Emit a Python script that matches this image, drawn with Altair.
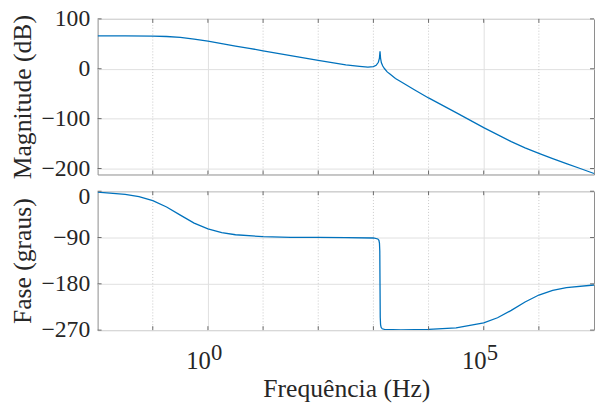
import altair as alt
import pandas as pd

# ---- data ----
mag_freq = [0.01, 0.0316, 0.1, 0.178, 0.316, 0.562, 1, 1.78, 3.16, 5.62, 10, 31.6, 100,
            316, 562, 794, 1000, 1122, 1230, 1288, 1318, 1349, 1396, 1479, 1585, 1778,
            1995, 2512, 3162, 5623, 1e4, 3.16e4, 1e5, 3.16e5, 5.62e5, 1e6, 1.78e6,
            3.16e6, 5.62e6, 1e7]
mag_db = [66, 66, 65.5, 64.7, 62.8, 59.5, 55.2, 50.5, 45.5, 41, 36, 26.5, 17,
          8, 5, 3.5, 4.5, 7, 13, 21.5, 35, 21, 12, 5.5, 0.5, -6.3,
          -10.5, -19.4, -26, -42.5, -58.5, -88, -118, -146, -158.5, -169.5, -180,
          -190, -200, -210]

ph_freq = [0.01, 0.0316, 0.0562, 0.1, 0.178, 0.316, 0.562, 1, 1.78, 3.16, 10, 31.6,
           100, 316, 1000, 1202, 1259, 1288, 1306, 1318, 1330, 1349, 1380, 1445, 1585,
           3162, 1e4, 3.16e4, 1e5, 1.78e5, 3.16e5, 5.62e5, 1e6, 1.78e6, 3.16e6, 1e7]
ph_deg = [-1.9, -6, -10.6, -18.4, -30.7, -46.5, -61.9, -73.3, -80.4, -84.6, -88.3, -89.5,
          -89.8, -90.1, -90.9, -92.8, -95.5, -100.9, -116, -180, -244.4, -259.2, -264.6,
          -267.4, -268.5, -269.5, -268.6, -265.5, -256, -246, -231.7, -215.4, -201.8,
          -192.7, -187.2, -182.3]

x_domain = [0.01, 1e7]
major_ticks = [1, 1e5]
major_exp = ["0", "5"]
minor_decades = [0.1, 10, 100, 1000, 1e4, 1e6]
all_decades = [0.1, 1, 10, 100, 1000, 1e4, 1e5, 1e6]
mag_domain = [-212, 100]
mag_ticks = [100, 0, -100, -200]
ph_domain = [-270, 0]
ph_ticks = [0, -90, -180, -270]
x_title = ["Frequência (Hz)"]

# ---- style ----
FONT = "Times New Roman, Liberation Serif, DejaVu Serif, serif"
TXT = "#262626"
LINE = "#0072BD"
GRID = "#e0e0e0"
MINOR = "#c8c8c8"
BOX = "#8c8c8c"
TICK = "#6a6a6a"
W, H1, H2 = 504, 158, 141

xs = alt.Scale(type="log", domain=x_domain, nice=False)


def panel(df, field, ydomain, yticks, ytitle, H, bottom):
    ys = alt.Scale(domain=ydomain, nice=False, zero=False)
    xaxis = alt.Axis(values=major_ticks, labels=False, ticks=False, domain=False,
                     grid=True, gridColor=GRID, gridWidth=1)
    yaxis = alt.Axis(values=yticks, ticks=False, tickSize=0, domain=False, grid=True,
                     gridColor=GRID, gridWidth=1, labelFont=FONT, labelFontSize=24,
                     labelColor=TXT, labelPadding=8,
                     labelOffset={"condition": {"test": "datum.value === 0 && " + ("true" if bottom else "false"),
                                                "value": 5}, "value": 0},
                     titleFont=FONT, titleFontSize=26,
                     titleFontWeight="normal", titleColor=TXT, titleAngle=270,
                     titleX=-76, titleY=H / 2, titleBaseline="middle",
                     titleAlign="center")

    def X(fld="f"):
        return alt.X(f"{fld}:Q", scale=xs, axis=xaxis, title=None)

    def Y(fld):
        return alt.Y(f"{fld}:Q", scale=ys, axis=yaxis, title=ytitle)

    minor = alt.Chart(pd.DataFrame({"f": minor_decades})).mark_rule(
        color=MINOR, strokeDash=[1, 2], strokeWidth=1
    ).encode(x=X())

    line = alt.Chart(df).mark_line(color=LINE, strokeWidth=1.3, clip=True).encode(
        x=X(), y=Y(field))

    dec = pd.DataFrame({"f": all_decades})
    t_top = alt.Chart(dec).mark_rule(color=TICK).encode(
        x=X(), y=alt.value(0), y2=alt.value(4))
    t_bot = alt.Chart(dec).mark_rule(color=TICK).encode(
        x=X(), y=alt.value(H), y2=alt.value(H - 4))
    yt = pd.DataFrame({"v": yticks})
    t_left = alt.Chart(yt).mark_rule(color=TICK).encode(
        y=Y("v"), x=alt.value(0), x2=alt.value(4))
    t_right = alt.Chart(yt).mark_rule(color=TICK).encode(
        y=Y("v"), x=alt.value(W), x2=alt.value(W - 4))

    layers = [minor, line, t_top, t_bot, t_left, t_right]
    if bottom:
        lab = pd.DataFrame({"f": major_ticks, "b": ["10"] * len(major_ticks), "e": major_exp})
        base = alt.Chart(lab).mark_text(font=FONT, fontSize=25, align="right",
                                        baseline="alphabetic", dx=3, color=TXT).encode(
            x=X(), y=alt.value(H + 39), text="b:N")
        expo = alt.Chart(lab).mark_text(font=FONT, fontSize=23, align="left",
                                        baseline="alphabetic", dx=3, color=TXT).encode(
            x=X(), y=alt.value(H + 30), text="e:N")
        ttl = alt.Chart(pd.DataFrame({"t": x_title})).mark_text(
            font=FONT, fontSize=26, align="center", baseline="alphabetic", color=TXT
        ).encode(x=alt.value(W / 2 + 1), y=alt.value(H + 68), text="t:N")
        layers += [base, expo, ttl]
    return alt.layer(*layers).properties(width=W, height=H)


mag_df = pd.DataFrame({"f": mag_freq, "m": mag_db})
ph_df = pd.DataFrame({"f": ph_freq, "p": ph_deg})

top = panel(mag_df, "m", mag_domain, mag_ticks, "Magnitude (dB)", H1, False)
bot = panel(ph_df, "p", ph_domain, ph_ticks, "Fase (graus)", H2, True)

chart = alt.vconcat(top, bot, spacing=17, bounds="flush").properties(
    padding={"left": 1, "top": -5, "right": 0, "bottom": 0},
    background="white",
).configure_view(stroke=BOX, strokeWidth=1)

chart.save("out.html", embed_options={"renderer": "svg", "actions": False})
